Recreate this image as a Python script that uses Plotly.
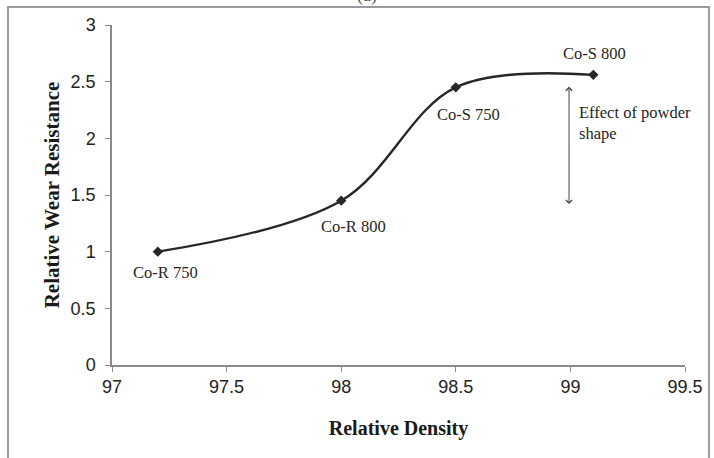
import plotly.graph_objects as go

density = [97.2, 98.0, 98.5, 99.1]
wear = [1.0, 1.45, 2.45, 2.56]
labels = ["Co-R 750", "Co-R 800", "Co-S 750", "Co-S 800"]
x_ticks = [97, 97.5, 98, 98.5, 99, 99.5]
y_ticks = [0, 0.5, 1, 1.5, 2, 2.5, 3]

serif = "Liberation Serif, Times New Roman, serif"
sans = "Liberation Sans, Arial, sans-serif"

fig = go.Figure()
fig.add_trace(go.Scatter(
    x=density, y=wear, mode="lines+markers",
    line=dict(color="#262626", width=2.4, shape="spline", smoothing=1.0),
    marker=dict(symbol="diamond", size=8, color="#262626"),
    showlegend=False, hoverinfo="x+y",
))

# point labels (pixel offsets right / down from each point)
offsets = [(8, 21), (12, 26), (13, 27), (1, -21)]
for (x, y, t), (dx, dy) in zip(zip(density, wear, labels), offsets):
    fig.add_annotation(x=x, y=y, text=t, showarrow=False, xshift=dx, yshift=-dy,
                       font=dict(family=serif, size=16.5, color="#262626"))

# double-headed arrow
fig.add_annotation(x=98.994, y=1.42, ax=98.994, ay=2.47, xref="x", yref="y",
                   axref="x", ayref="y", text="", showarrow=True, arrowhead=4,
                   arrowsize=1.2, arrowwidth=1, arrowcolor="#444444", startarrowhead=4,
                   arrowside="end+start", startarrowsize=1.2)
fig.add_annotation(x=99.029, y=2.136, text="Effect of powder<br>shape", showarrow=False,
                   xanchor="left", yanchor="middle", align="left",
                   font=dict(family=serif, size=16.5, color="#262626"))

# cut-off figure label
fig.add_annotation(xref="paper", yref="paper", x=0.445, y=1.088, text="(a)", showarrow=False,
                   font=dict(family=serif, size=18, color="#555555"), yanchor="middle")

# outer border
fig.add_shape(type="rect", xref="paper", yref="paper", x0=-0.1815, x1=1.042, y0=-0.3, y1=1.053,
              line=dict(color="#9a9a9a", width=2), fillcolor="rgba(0,0,0,0)")

fig.update_layout(
    width=714, height=458,
    margin=dict(l=112, r=29, t=25, b=93),
    paper_bgcolor="white", plot_bgcolor="white",
    xaxis=dict(range=[97, 99.5], tickvals=x_ticks, ticktext=[str(v) for v in x_ticks],
               showgrid=False, zeroline=False, showline=True, linecolor="#8a8a8a", linewidth=1.5,
               ticks="outside", ticklen=5, tickcolor="#8a8a8a",
               tickfont=dict(family=sans, size=18, color="#222222"),
               title=dict(text="<b>Relative Density</b>", font=dict(family=serif, size=20, color="#1a1a1a"),
                          standoff=25)),
    yaxis=dict(range=[0, 3], tickvals=y_ticks, ticktext=[str(v) for v in y_ticks],
               showgrid=False, zeroline=False, showline=True, linecolor="#8a8a8a", linewidth=1.5,
               ticks="outside", ticklen=5, tickcolor="#8a8a8a", ticklabelstandoff=6,
               tickfont=dict(family=sans, size=18, color="#222222"),
               title=dict(text="<b>Relative Wear Resistance</b>", font=dict(family=serif, size=21, color="#1a1a1a"),
                          standoff=5)),
)

fig.write_html("out.html", config={"displayModeBar": False},
               post_script="document.body.style.margin='0px';")
